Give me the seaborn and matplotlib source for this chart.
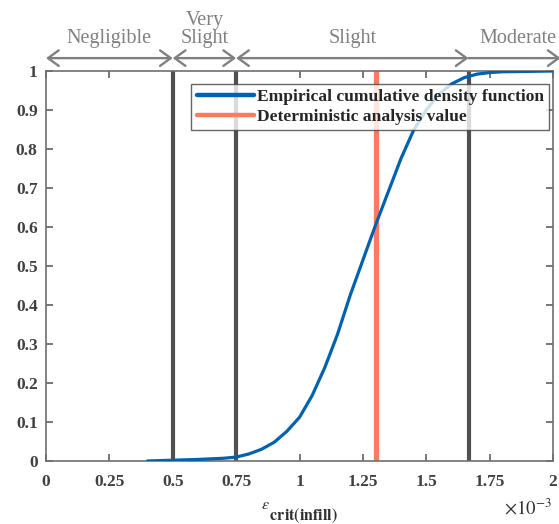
import numpy as np
import pandas as pd
import matplotlib
matplotlib.use("Agg")
import matplotlib.pyplot as plt
import seaborn as sns

# ---- data (strain values in units of 1e-3) ----
cdf_x = [0.40, 0.50, 0.60, 0.70, 0.75, 0.80, 0.85, 0.90, 0.95, 1.00, 1.05, 1.10,
         1.15, 1.20, 1.25, 1.30, 1.35, 1.40, 1.45, 1.50, 1.55, 1.60, 1.65, 1.70,
         1.75, 1.80, 1.90, 2.00]
cdf_y = [0.000, 0.002, 0.004, 0.007, 0.010, 0.018, 0.030, 0.048, 0.076, 0.112, 0.168, 0.240,
         0.325, 0.425, 0.515, 0.605, 0.690, 0.775, 0.848, 0.900, 0.940, 0.967, 0.983, 0.992,
         0.996, 0.998, 0.999, 1.000]
deterministic_value = 1.30
damage_limits = [0.50, 0.75, 1.667]
damage_labels = ["Negligible", "Very\nSlight", "Slight", "Moderate"]
damage_bounds = [0.0, 0.50, 0.75, 1.667, 2.03]
x_ticks = [0, 0.25, 0.5, 0.75, 1, 1.25, 1.5, 1.75, 2]
x_ticklabels = ["0", "0.25", "0.5", "0.75", "1", "1.25", "1.5", "1.75", "2"]
y_ticks = [0, 0.1, 0.2, 0.3, 0.4, 0.5, 0.6, 0.7, 0.8, 0.9, 1.0]
y_ticklabels = ["0", "0.1", "0.2", "0.3", "0.4", "0.5", "0.6", "0.7", "0.8", "0.9", "1"]

df = pd.DataFrame({"x": cdf_x, "y": cdf_y})

sns.set_style("ticks")
plt.rcParams["font.family"] = ["Liberation Serif", "DejaVu Serif"]
plt.rcParams["mathtext.fontset"] = "stix"

fig = plt.figure(figsize=(5.59, 5.24), dpi=100)
ax = fig.add_axes([46/559, 1-461/524, (553-46)/559, (461-71)/524])

sns.lineplot(data=df, x="x", y="y", ax=ax, color="#0062AE", linewidth=2.3,
             label="Empirical cumulative density function", zorder=3)
for xv in damage_limits:
    ax.axvline(xv, color="#505050", linewidth=3.0, zorder=2)
ax.axvline(deterministic_value, color="#FB7B5C", linewidth=3.8, zorder=2,
           label="Deterministic analysis value")

ax.set_xlim(0, 2)
ax.set_ylim(0, 1)
ax.set_xticks(x_ticks)
ax.set_xticklabels(x_ticklabels)
ax.set_yticks(y_ticks)
ax.set_yticklabels(y_ticklabels)
ax.tick_params(direction="in", length=5, width=1.2, color="#606060",
               top=True, right=True, labelsize=12.5, labelcolor="#404040")
ax.tick_params(axis="x", pad=9)
ax.tick_params(axis="y", pad=6)
for lab in ax.get_xticklabels() + ax.get_yticklabels():
    lab.set_fontweight("bold")
for sp in ax.spines.values():
    sp.set_color("#707070")
    sp.set_linewidth(1.2)
ax.set_xlabel(r"$^{\epsilon}{}_{\mathbf{crit(infill)}}$", fontsize=16.5, color="#303030",
              labelpad=8)
ax.set_ylabel("")
ax.text(0.998, -0.095, r"$\times10^{-3}$", transform=ax.transAxes, ha="right", va="top",
        fontsize=13.5, color="#303030")

leg = ax.legend(loc="upper right", bbox_to_anchor=(0.993, 0.967), frameon=True, fancybox=False,
                borderpad=0.3, handlelength=3.3, handletextpad=0.15, labelspacing=0.2,
                borderaxespad=0.0, prop={"weight": "bold", "size": 12.6})
leg.get_frame().set_edgecolor("#404040")
leg.get_frame().set_linewidth(1.0)
leg.set_zorder(5)
for line in leg.get_lines():
    line.set_linewidth(3.2)

# damage-level arrows above the plot
trans = ax.get_xaxis_transform()
for i, lab in enumerate(damage_labels):
    a, b = damage_bounds[i], damage_bounds[i + 1]
    style = "<->" if i < 3 else "<-"
    ax.annotate("", xy=(a, 1.033), xytext=(b, 1.033), xycoords=trans, textcoords=trans,
                arrowprops=dict(arrowstyle=style + ",head_length=0.55,head_width=0.4",
                                color="#808080", lw=1.7, mutation_scale=14,
                                shrinkA=0, shrinkB=0), annotation_clip=False)
    cx = (a + min(b, 2.0)) / 2 if i < 3 else 1.86
    ax.text(cx, 1.06, lab, transform=trans, ha="center", va="bottom", fontsize=14.5,
            color="#808080", linespacing=0.9)

fig.savefig("out.png", dpi=100)
